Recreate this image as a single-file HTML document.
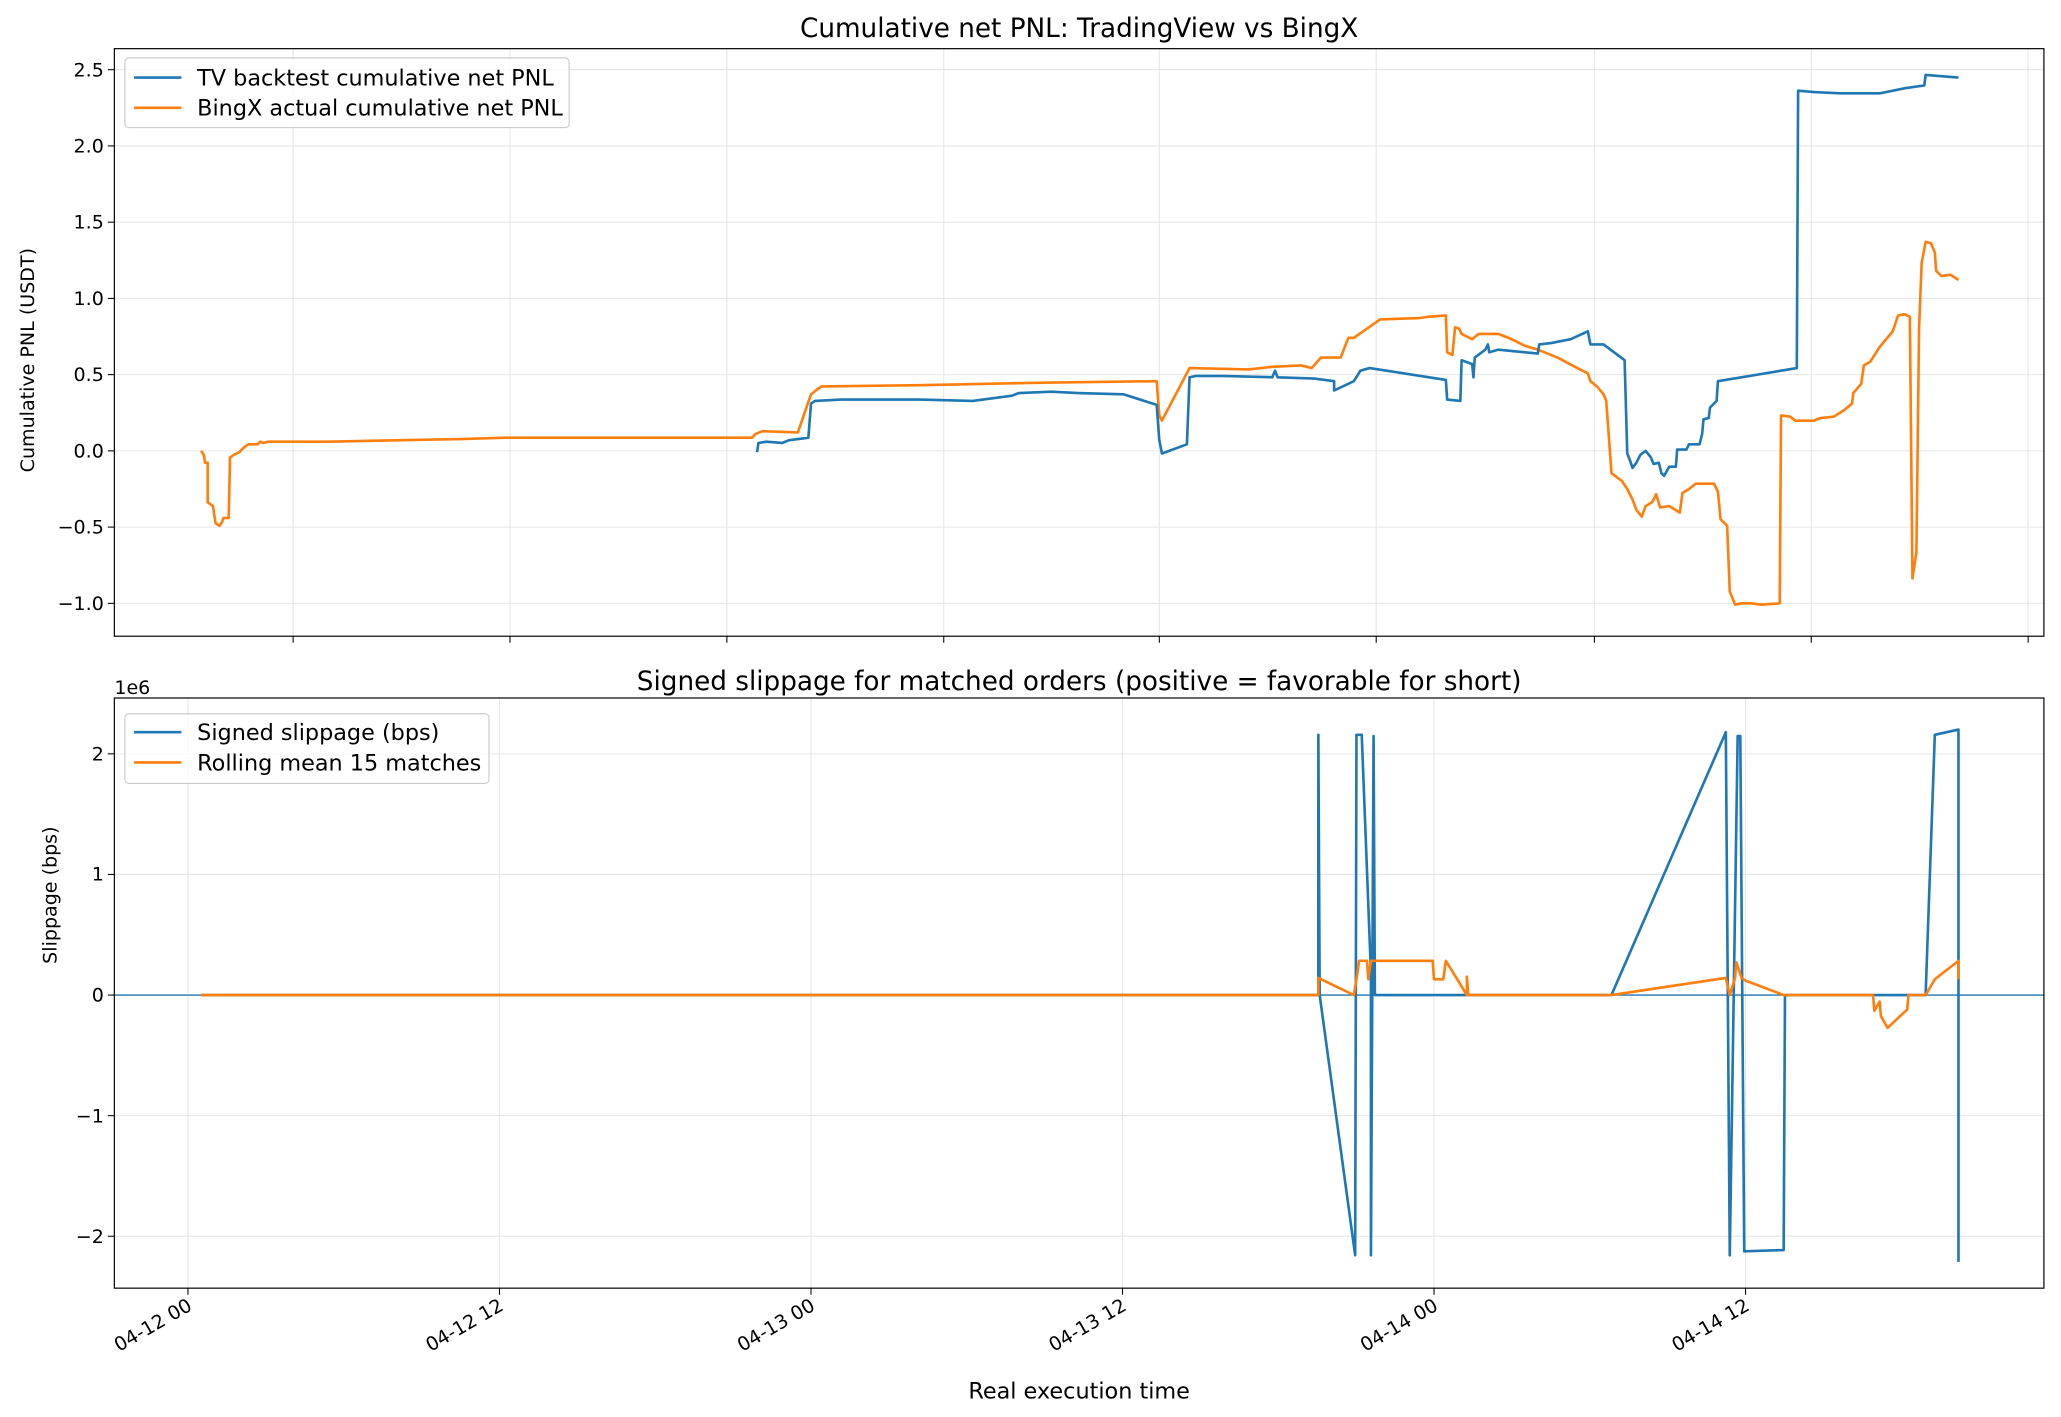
<!DOCTYPE html>
<html><head><meta charset="utf-8"><style>html,body{margin:0;padding:0;background:#fff}svg{display:block}text{font-family:"DejaVu Sans","Liberation Sans",sans-serif;fill:#000}</style></head><body>
<svg width="2061" height="1417" viewBox="0 0 1568 1078" xmlns="http://www.w3.org/2000/svg">
<rect width="1568" height="1078" fill="#fff"/>
<!-- TOP AXES -->
<g stroke="#e6e6e6" stroke-width="0.8">
<line x1="223" y1="37" x2="223" y2="484"/><line x1="388" y1="37" x2="388" y2="484"/><line x1="553" y1="37" x2="553" y2="484"/><line x1="718" y1="37" x2="718" y2="484"/><line x1="882" y1="37" x2="882" y2="484"/><line x1="1047" y1="37" x2="1047" y2="484"/><line x1="1213" y1="37" x2="1213" y2="484"/><line x1="1378" y1="37" x2="1378" y2="484"/><line x1="1543" y1="37" x2="1543" y2="484"/>
<line x1="87" y1="53" x2="1555" y2="53"/><line x1="87" y1="111" x2="1555" y2="111"/><line x1="87" y1="169" x2="1555" y2="169"/><line x1="87" y1="227" x2="1555" y2="227"/><line x1="87" y1="285" x2="1555" y2="285"/><line x1="87" y1="343" x2="1555" y2="343"/><line x1="87" y1="401" x2="1555" y2="401"/><line x1="87" y1="459" x2="1555" y2="459"/>
</g>
<g stroke="#000" stroke-width="0.8">
<line x1="223" y1="484" x2="223" y2="489"/><line x1="388" y1="484" x2="388" y2="489"/><line x1="553" y1="484" x2="553" y2="489"/><line x1="718" y1="484" x2="718" y2="489"/><line x1="882" y1="484" x2="882" y2="489"/><line x1="1047" y1="484" x2="1047" y2="489"/><line x1="1213" y1="484" x2="1213" y2="489"/><line x1="1378" y1="484" x2="1378" y2="489"/><line x1="1543" y1="484" x2="1543" y2="489"/>
<line x1="82" y1="53" x2="87" y2="53"/><line x1="82" y1="111" x2="87" y2="111"/><line x1="82" y1="169" x2="87" y2="169"/><line x1="82" y1="227" x2="87" y2="227"/><line x1="82" y1="285" x2="87" y2="285"/><line x1="82" y1="343" x2="87" y2="343"/><line x1="82" y1="401" x2="87" y2="401"/><line x1="82" y1="459" x2="87" y2="459"/>
</g>
<g font-size="14.5" text-anchor="end">
<text x="79" y="58">2.5</text><text x="79" y="116">2.0</text><text x="79" y="174">1.5</text><text x="79" y="232">1.0</text><text x="79" y="290">0.5</text><text x="79" y="348">0.0</text><text x="79" y="406">−0.5</text><text x="79" y="464">−1.0</text>
</g>
<text x="22" y="274" font-size="14.5" text-anchor="middle" transform="rotate(-90 22 274)" dy="4">Cumulative PNL (USDT)</text>
<text x="821" y="28" font-size="20" text-anchor="middle">Cumulative net PNL: TradingView vs BingX</text>
<polyline fill="none" stroke="#ff7f0e" stroke-width="2" stroke-linejoin="round" points="153,343 155,346 156,352 158,352 158,382 162,385 164,398 167,400 169,397 170,394 174,394 175,348 178,346 182,344 186,340 189,338 196,338 198,336 200,337 204,336 250,336 300,335 350,334 385,333 450,333 572,333 575,330 580,328 607,329 617,300 622,296 625,294 700,293 800,291 880,290 882,316 884,320 905,280 950,281 968,279 990,278 998,280 1005,272 1020,272 1025,259 1026,257 1030,257 1050,243 1080,242 1086,241 1100,240 1101,268 1105,270 1107,249 1110,250 1112,254 1120,258 1125,254 1140,254 1150,258 1160,263 1170,266 1185,272 1200,280 1208,284 1210,290 1215,294 1220,300 1222,305 1224,332 1226,360 1230,363 1234,366 1238,372 1242,380 1245,388 1249,393 1252,385 1257,382 1260,376 1263,386 1270,385 1278,390 1280,375 1285,372 1290,368 1295,368 1300,368 1304,368 1307,374 1309,395 1314,400 1316,450 1320,460 1325,459 1332,459 1340,460 1354,459 1355,316 1362,317 1366,320 1380,320 1385,318 1395,317 1403,312 1409,307 1410,299 1416,292 1418,278 1423,275 1430,264 1440,252 1444,240 1449,239 1453,241 1455,440 1458,420 1460,250 1462,200 1465,184 1469,185 1472,192 1473,206 1477,210 1484,209 1490,213"/>
<polyline fill="none" stroke="#1f77b4" stroke-width="2" stroke-linejoin="round" points="576,344 577,337 583,336 595,337 600,335 615,333 617,307 620,305 640,304 700,304 740,305 770,301 775,299 800,298 820,299 855,300 880,308 882,335 884,345 903,338 905,287 910,286 930,286 968,287 970,282 972,287 1000,288 1015,290 1015,297 1030,290 1035,282 1042,280 1100,289 1101,304 1111,305 1112,274 1120,277 1121,287 1122,272 1130,266 1132,262 1133,268 1140,266 1170,269 1171,262 1180,261 1195,258 1208,252 1210,262 1220,262 1236,274 1238,345 1240,350 1242,356 1245,352 1248,346 1252,343 1256,348 1258,353 1262,352 1264,360 1266,362 1270,355 1275,355 1276,342 1283,342 1285,338 1293,338 1295,330 1296,319 1300,318 1301,310 1306,305 1307,290 1367,280 1368,69 1380,70 1400,71 1430,71 1450,67 1464,65 1465,57 1490,59"/>
<rect x="87" y="37" width="1468" height="447" fill="none" stroke="#000" stroke-width="0.9"/>
<rect x="95" y="44" width="338" height="53" rx="3" fill="#fff" fill-opacity="0.8" stroke="#ccc" stroke-width="0.9"/>
<line x1="102" y1="59" x2="138" y2="59" stroke="#1f77b4" stroke-width="2"/>
<line x1="102" y1="82" x2="138" y2="82" stroke="#ff7f0e" stroke-width="2"/>
<text x="150" y="65" font-size="17">TV backtest cumulative net PNL</text>
<text x="150" y="88" font-size="17">BingX actual cumulative net PNL</text>

<!-- BOTTOM AXES -->
<g stroke="#e6e6e6" stroke-width="0.8">
<line x1="143" y1="531" x2="143" y2="980"/><line x1="380" y1="531" x2="380" y2="980"/><line x1="617" y1="531" x2="617" y2="980"/><line x1="854" y1="531" x2="854" y2="980"/><line x1="1091" y1="531" x2="1091" y2="980"/><line x1="1328" y1="531" x2="1328" y2="980"/>
<line x1="87" y1="573.5" x2="1555" y2="573.5"/><line x1="87" y1="665.25" x2="1555" y2="665.25"/><line x1="87" y1="757" x2="1555" y2="757"/><line x1="87" y1="848.75" x2="1555" y2="848.75"/><line x1="87" y1="940.5" x2="1555" y2="940.5"/>
</g>
<g stroke="#000" stroke-width="0.8">
<line x1="143" y1="980" x2="143" y2="985"/><line x1="380" y1="980" x2="380" y2="985"/><line x1="617" y1="980" x2="617" y2="985"/><line x1="854" y1="980" x2="854" y2="985"/><line x1="1091" y1="980" x2="1091" y2="985"/><line x1="1328" y1="980" x2="1328" y2="985"/>
<line x1="82" y1="573.5" x2="87" y2="573.5"/><line x1="82" y1="665.25" x2="87" y2="665.25"/><line x1="82" y1="757" x2="87" y2="757"/><line x1="82" y1="848.75" x2="87" y2="848.75"/><line x1="82" y1="940.5" x2="87" y2="940.5"/>
</g>
<g font-size="14.5" text-anchor="end">
<text x="79" y="578.5">2</text><text x="79" y="670">1</text><text x="79" y="762">0</text><text x="79" y="854">−1</text><text x="79" y="945.5">−2</text>
</g>
<text x="87" y="528" font-size="14.5">1e6</text>
<text x="39" y="681" font-size="14.5" text-anchor="middle" transform="rotate(-90 39 681)" dy="4">Slippage (bps)</text>
<text x="821" y="525" font-size="20" text-anchor="middle">Signed slippage for matched orders (positive = favorable for short)</text>
<g font-size="14.5" text-anchor="end">
<text transform="translate(147,996) rotate(-30)">04-12 00</text>
<text transform="translate(384,996) rotate(-30)">04-12 12</text>
<text transform="translate(621,996) rotate(-30)">04-13 00</text>
<text transform="translate(858,996) rotate(-30)">04-13 12</text>
<text transform="translate(1095,996) rotate(-30)">04-14 00</text>
<text transform="translate(1332,996) rotate(-30)">04-14 12</text>
</g>
<text x="821" y="1064" font-size="17" text-anchor="middle">Real execution time</text>
<line x1="87" y1="757" x2="1555" y2="757" stroke="#1f77b4" stroke-width="1"/>
<polyline fill="none" stroke="#1f77b4" stroke-width="2" stroke-linejoin="round" points="153,757 1003,757 1003,559 1004,757 1031,955 1032,559 1036,559 1043,740 1043,955 1045,560 1046,757 1226,757 1313,557 1316,955 1322,560 1324,560 1327,952 1357,951 1358,757 1465,757 1472,559 1490,555 1490,960"/>
<polyline fill="none" stroke="#ff7f0e" stroke-width="2" stroke-linejoin="round" points="153,757 1003,757 1003,744 1030,757 1032,745 1034,731 1036,731 1040,731 1041,745 1043,731 1090,731 1091,745 1098,745 1100,731 1116,757 1116,743 1117,757 1226,757 1313,744 1316,757 1320,744 1321,732 1325,744 1328,746 1357,757 1425,757 1426,769 1430,762 1431,773 1436,782 1451,768 1452,757 1465,757 1472,745 1490,731 1490,745"/>
<rect x="87" y="531" width="1468" height="449" fill="none" stroke="#000" stroke-width="0.9"/>
<rect x="95" y="543" width="277" height="53" rx="3" fill="#fff" fill-opacity="0.8" stroke="#ccc" stroke-width="0.9"/>
<line x1="102" y1="557" x2="138" y2="557" stroke="#1f77b4" stroke-width="2"/>
<line x1="102" y1="580" x2="138" y2="580" stroke="#ff7f0e" stroke-width="2"/>
<text x="150" y="563" font-size="17">Signed slippage (bps)</text>
<text x="150" y="586" font-size="17">Rolling mean 15 matches</text>
</svg>
</body></html>
